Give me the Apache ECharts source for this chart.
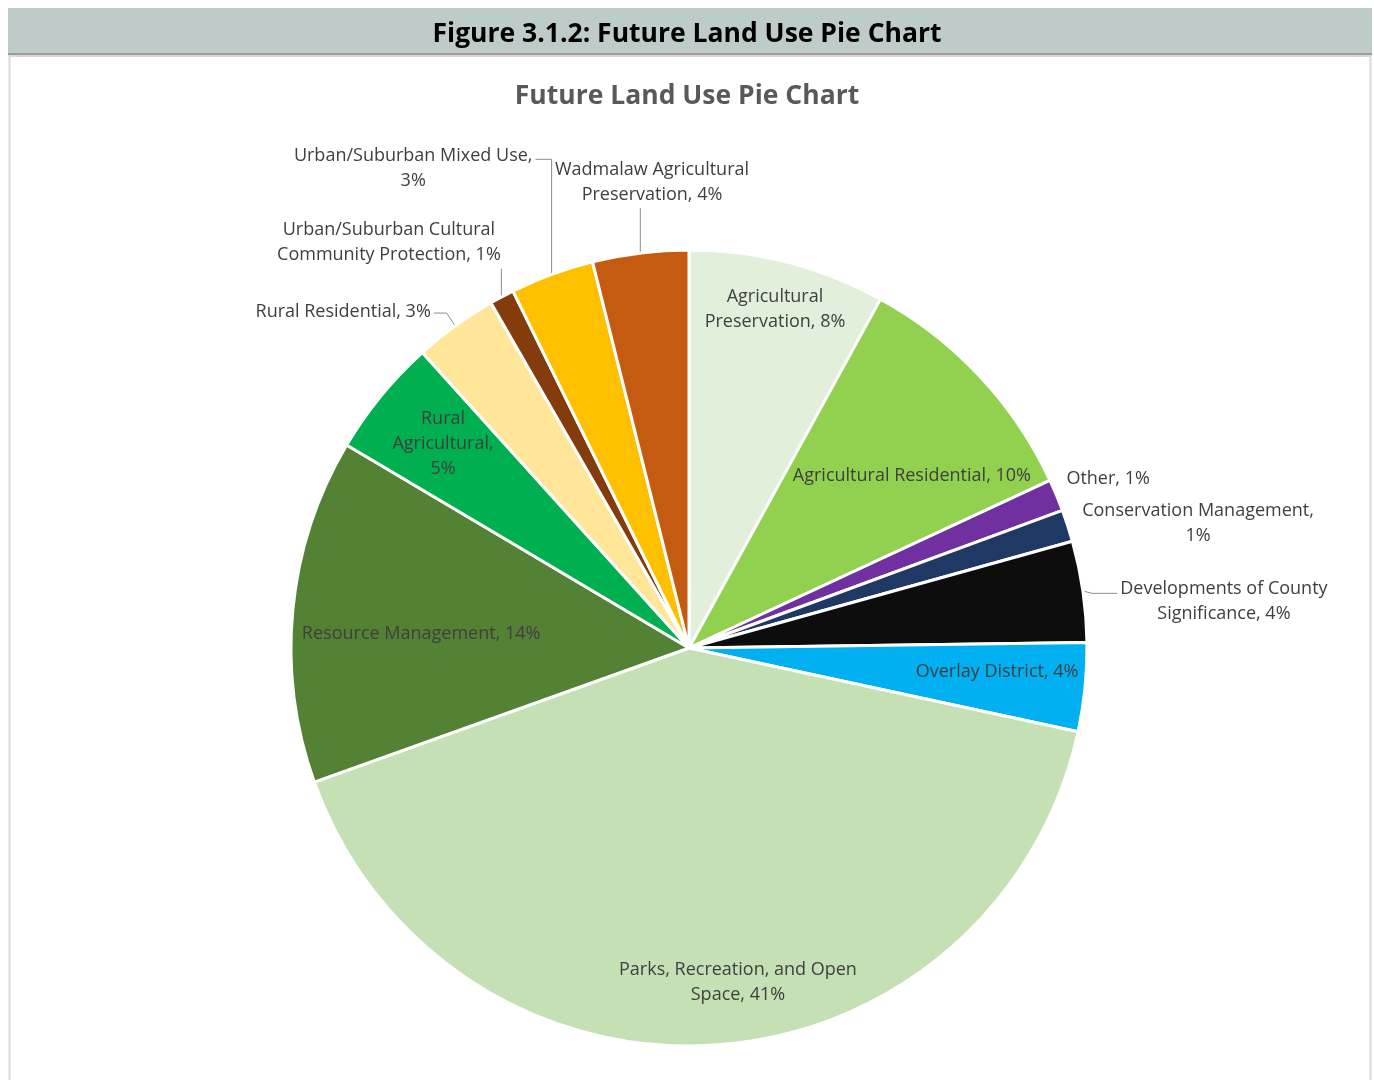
<!DOCTYPE html>
<html>
<head>
<meta charset="utf-8">
<script src="https://cdn.jsdelivr.net/npm/echarts@6/dist/echarts.min.js"></script>
<style>
  html, body { margin: 0; padding: 0; background: #fff; }
  #main { width: 1374px; height: 1080px; }
</style>
</head>
<body>
<div id="main"></div>
<script>
// slices, clockwise from 12 o'clock
var landUse = [
  'Agricultural Preservation',
  'Agricultural Residential',
  'Other',
  'Conservation Management',
  'Developments of County Significance',
  'Overlay District',
  'Parks, Recreation, and Open Space',
  'Resource Management',
  'Rural Agricultural',
  'Rural Residential',
  'Urban/Suburban Cultural Community Protection',
  'Urban/Suburban Mixed Use',
  'Wadmalaw Agricultural Preservation'
];
var sharePct = [8.0, 10.1, 1.3, 1.3, 4.1, 3.6, 41.2, 14.0, 4.8, 3.4, 1.0, 3.4, 3.9];
var sliceColors = [
  '#E2EFDA', '#92D050', '#7030A0', '#1F3864', '#0D0D0D', '#00B0F0', '#C5E0B4',
  '#548235', '#00B050', '#FFE699', '#843C0C', '#FFC000', '#C55A11'
];
// word counts after which the label wraps
var labelBreaks = [[1], [], [], [2], [3], [], [4], [], [1, 2], [], [2], [3], [2]];

var FONT = '"Open Sans"';
var cx = 689, cy = 648, R = 398;
// label centres, in pie radii from the centre
var labelSpot = [
  [0.216, -0.852], [0.560, -0.432], [1.053, -0.425], [1.279, -0.312], [1.344, -0.116],
  [0.774, 0.060], [0.123, 0.839], [-0.673, -0.035], [-0.618, -0.513], [-0.869, -0.844],
  [-0.754, -1.018], [-0.693, -1.204], [-0.093, -1.171]
];
// leader lines
var leader = {4: 'left', 9: 'right', 10: 'up', 11: 'upRight', 12: 'up'};

var total = sharePct.reduce(function (a, b) { return a + b; }, 0);
function edgePoint(i) {
  var s = 0;
  for (var k = 0; k < i; k++) s += sharePct[k];
  var a = (s + sharePct[i] / 2) / total * 2 * Math.PI;
  return [cx + (R + 1) * Math.sin(a), cy - (R + 1) * Math.cos(a)];
}

var pieData = landUse.map(function (name, i) {
  return {
    name: name,
    value: sharePct[i],
    itemStyle: { color: sliceColors[i] },
    label: { position: leader[i] || i === 2 || i === 3 ? 'outside' : 'inside' },
    labelLine: { show: !!leader[i] }
  };
});

var myChart = echarts.init(document.getElementById('main'));
var option = {
  backgroundColor: '#fff',
  animation: false,
  graphic: [
    { type: 'rect', z: 0, shape: { x: 8, y: 8, width: 1364, height: 46 }, style: { fill: '#BDCBC9' } },
    { type: 'rect', z: 0, shape: { x: 8, y: 53, width: 1364, height: 2 }, style: { fill: '#9C9C9C' } },
    { type: 'rect', z: 0, shape: { x: 9.5, y: 56, width: 1361, height: 1030 },
      style: { fill: '#fff', stroke: '#D9D9D9', lineWidth: 2 } }
  ],
  title: [
    {
      text: 'Figure 3.1.2: Future Land Use Pie Chart',
      left: 'center', top: 16,
      textStyle: { fontFamily: FONT, fontSize: 26.5, fontWeight: 'bold', color: '#000' }
    },
    {
      text: 'Future Land Use Pie Chart',
      left: 'center', top: 78,
      textStyle: { fontFamily: FONT, fontSize: 26.5, fontWeight: 'bold', color: '#595959' }
    }
  ],
  series: [{
    type: 'pie',
    center: [cx, cy],
    radius: R,
    startAngle: 90,
    clockwise: true,
    avoidLabelOverlap: false,
    itemStyle: { borderColor: '#fff', borderWidth: 3 },
    label: {
      fontFamily: FONT,
      fontSize: 18,
      lineHeight: 25,
      color: '#3F3F3F',
      align: 'center',
      formatter: function (p) {
        var words = (p.name + ', ' + Math.round(p.percent) + '%').split(' ');
        var brk = labelBreaks[p.dataIndex];
        var out = '';
        words.forEach(function (w, k) {
          if (k > 0) out += brk.indexOf(k) >= 0 ? '\n' : ' ';
          out += w;
        });
        return out;
      }
    },
    labelLine: { lineStyle: { color: '#8C8C8C', width: 1 } },
    labelLayout: function (params) {
      var i = params.dataIndex;
      var x = cx + labelSpot[i][0] * R;
      var y = cy + labelSpot[i][1] * R;
      var w = params.labelRect.width, h = params.labelRect.height;
      var firstY = y - h / 2 + 12.5;
      var res = { x: x, y: y, align: 'center', verticalAlign: 'middle' };
      var p0 = edgePoint(i);
      var kind = leader[i];
      if (kind === 'up') {
        res.labelLinePoints = [p0, [p0[0], y + h / 2 + 1], [p0[0], y + h / 2 + 1]];
      } else if (kind === 'upRight') {
        res.labelLinePoints = [p0, [p0[0], firstY + 3], [x + w / 2 + 3, firstY + 3]];
      } else if (kind === 'right') {
        res.labelLinePoints = [p0, [p0[0] - 8, firstY + 1], [x + w / 2 + 3, firstY + 1]];
      } else if (kind === 'left') {
        res.labelLinePoints = [p0, [p0[0] + 8, firstY + 4], [x - w / 2 - 3, firstY + 4]];
      }
      return res;
    },
    data: pieData
  }]
};
myChart.setOption(option);
</script>
</body>
</html>
